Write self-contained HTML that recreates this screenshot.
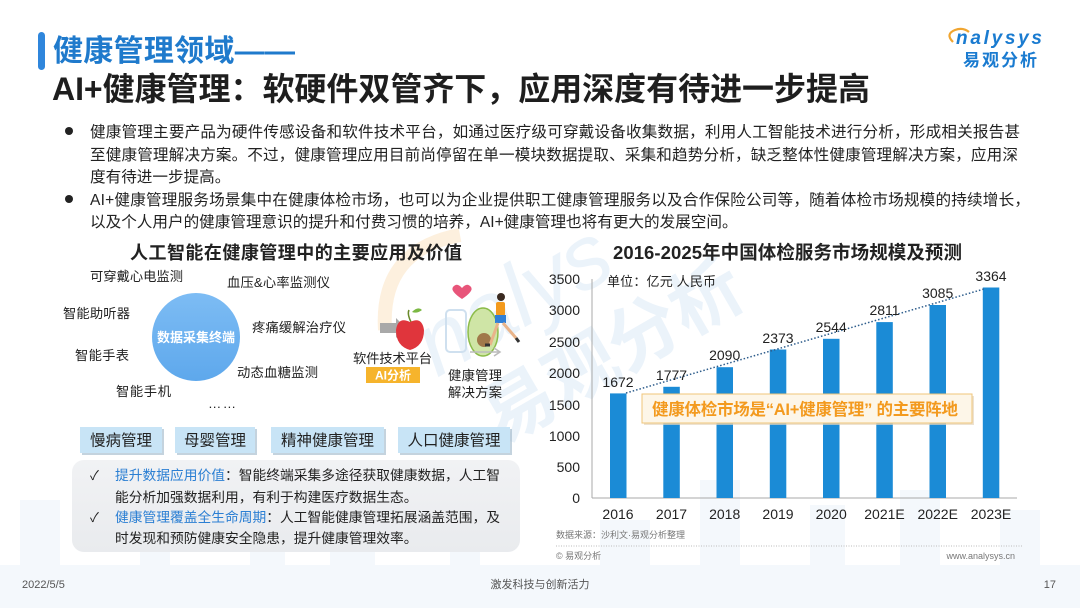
<!DOCTYPE html>
<html>
<head>
<meta charset="utf-8">
<style>
  html,body{margin:0;padding:0;background:#fff;}
  body{width:1080px;height:608px;overflow:hidden;position:relative;}
  svg{position:absolute;left:0;top:0;}
  text{font-family:"Liberation Sans","Noto Sans CJK SC",sans-serif;}
</style>
</head>
<body>
<svg width="1080" height="608" viewBox="0 0 1080 608" xmlns="http://www.w3.org/2000/svg">
  <defs>
    <linearGradient id="circG" x1="0" y1="0" x2="0" y2="1">
      <stop offset="0" stop-color="#7dbcf4"/>
      <stop offset="1" stop-color="#5ea8ec"/>
    </linearGradient>
    <linearGradient id="grayBox" x1="0" y1="0" x2="0" y2="1">
      <stop offset="0" stop-color="#f1f2f4"/>
      <stop offset="1" stop-color="#e9ebee"/>
    </linearGradient>
  </defs>

  <!-- faint background skyline -->
  <g fill="#f4f8fc">
    <rect x="0" y="565" width="1080" height="43"/>
    <rect x="20" y="500" width="40" height="108"/>
    <rect x="140" y="520" width="30" height="88"/>
    <rect x="250" y="490" width="35" height="118"/>
    <rect x="330" y="470" width="45" height="138"/>
    <rect x="450" y="500" width="30" height="108"/>
    <rect x="600" y="520" width="50" height="88"/>
    <rect x="700" y="480" width="40" height="128"/>
    <rect x="810" y="505" width="35" height="103"/>
    <rect x="900" y="490" width="40" height="118"/>
    <rect x="1000" y="510" width="40" height="98"/>
  </g>

  <!-- watermark -->
  <path d="M385 330 Q380 250 460 235" fill="none" stroke="#fbe6c8" stroke-width="14" opacity="0.6"/>
  <g transform="translate(600,330) rotate(-30)" opacity="0.4">
    <text x="-60" y="-40" font-size="90" font-style="italic" fill="#cfe2f4" text-anchor="middle">nalys</text>
    <text x="0" y="50" font-size="72" fill="#cfe2f4" text-anchor="middle" font-weight="bold">易观分析</text>
  </g>

  <!-- header -->
  <rect x="38" y="32" width="7" height="38" rx="3.5" fill="#2f86dc"/>
  <text x="53" y="61" font-size="30" font-weight="bold" fill="#1f7acc" textLength="242">健康管理领域——</text>
  <text x="52" y="100" font-size="32" font-weight="bold" fill="#1e1e1e" textLength="818">AI+健康管理：软硬件双管齐下，应用深度有待进一步提高</text>

  <!-- logo -->
  <path d="M953 42 Q945 34 955 30 Q963 27 969 32" fill="none" stroke="#f0a530" stroke-width="2.2"/>
  <text x="956" y="44" font-size="19" font-style="italic" font-weight="bold" fill="#1a7bd0" textLength="86">nalysys</text>
  <text x="963" y="66" font-size="17" font-weight="bold" fill="#1a7bd0" textLength="74">易观分析</text>

  <!-- bullets -->
  <g font-size="15.6" fill="#222">
    <circle cx="69" cy="131" r="4" fill="#222"/>
    <text x="90" y="137" textLength="930">健康管理主要产品为硬件传感设备和软件技术平台，如通过医疗级可穿戴设备收集数据，利用人工智能技术进行分析，形成相关报告甚</text>
    <text x="90" y="160" textLength="928">至健康管理解决方案。不过，健康管理应用目前尚停留在单一模块数据提取、采集和趋势分析，缺乏整体性健康管理解决方案，应用深</text>
    <text x="90" y="182">度有待进一步提高。</text>
    <circle cx="69" cy="199" r="4" fill="#222"/>
    <text x="90" y="205" textLength="940">AI+健康管理服务场景集中在健康体检市场，也可以为企业提供职工健康管理服务以及合作保险公司等，随着体检市场规模的持续增长，</text>
    <text x="90" y="227">以及个人用户的健康管理意识的提升和付费习惯的培养，AI+健康管理也将有更大的发展空间。</text>
  </g>

  <!-- left section title -->
  <text x="130" y="259" font-size="18" font-weight="bold" fill="#222" textLength="332">人工智能在健康管理中的主要应用及价值</text>

  <!-- circle -->
  <circle cx="196" cy="337" r="44" fill="url(#circG)"/>
  <text x="196" y="342" font-size="13" font-weight="bold" fill="#fff" text-anchor="middle">数据采集终端</text>

  <g font-size="13.3" fill="#222">
    <text x="90" y="281" textLength="93">可穿戴心电监测</text>
    <text x="227" y="287" textLength="103">血压&amp;心率监测仪</text>
    <text x="63" y="318" textLength="67">智能助听器</text>
    <text x="252" y="332" textLength="94">疼痛缓解治疗仪</text>
    <text x="75" y="360" textLength="54">智能手表</text>
    <text x="237" y="377" textLength="81">动态血糖监测</text>
    <text x="116" y="396" textLength="55">智能手机</text>
    <text x="208" y="408" textLength="28">……</text>
    <text x="353" y="363" textLength="79">软件技术平台</text>
    <text x="448" y="380" textLength="54">健康管理</text>
    <text x="448" y="397" textLength="54">解决方案</text>
  </g>

  <!-- gray arrow -->
  <path d="M380 323 L396 323 L396 318 L406 328 L396 338 L396 333 L380 333 Z" fill="#a9a9a9"/>
  <!-- AI analysis box -->
  <rect x="366" y="367" width="54" height="16" fill="#f6b42c"/>
  <text x="393" y="379.5" font-size="12" font-weight="bold" fill="#fff" text-anchor="middle">AI分析</text>

  <!-- illustration -->
  <path d="M411 322 q-4 -8 -2 -12" stroke="#6a8a2a" stroke-width="1.5" fill="none"/>
  <path d="M412 312 q6 -6 10 -2 q-5 4 -10 2z" fill="#7bb843"/>
  <path d="M410 322 q-12 -6 -14 8 q0 16 14 20 q14 -4 14 -20 q-2 -14 -14 -8z" fill="#e0353c"/>
  <rect x="446" y="310" width="20" height="42" rx="4" fill="none" stroke="#cfe0ef" stroke-width="2"/>
  <path d="M462 288 q-5 -6 -9 -1 q-3 4 9 12 q12 -8 9 -12 q-4 -5 -9 1z" fill="#e8557a"/>
  <ellipse cx="483" cy="332" rx="15" ry="24" fill="#cfe5a6" stroke="#8cbc4a" stroke-width="1.5"/>
  <circle cx="484" cy="340" r="7" fill="#a0794a"/>
  <circle cx="501" cy="297" r="4" fill="#3a2a20"/>
  <rect x="496" y="302" width="9" height="14" rx="2" fill="#f39a1e"/>
  <rect x="495" y="315" width="11" height="8" fill="#2f7fd6"/>
  <path d="M498 323 L490 345 M503 323 L516 338" stroke="#e9b48a" stroke-width="3" fill="none"/>
  <path d="M490 345 l-5 0 M516 338 l3 4" stroke="#333" stroke-width="3"/>
  <path d="M470 352 L500 352 M494 348 l6 4 l-6 4" stroke="#bbb" stroke-width="1.5" fill="none"/>

  <!-- pills -->
  <g>
    <rect x="82" y="429" width="82" height="26" fill="#9db5c8" opacity="0.6"/>
    <rect x="80" y="427" width="82" height="26" fill="#c8e4f6"/>
    <text x="121" y="445.5" font-size="15.5" fill="#222" text-anchor="middle">慢病管理</text>
    <rect x="177" y="429" width="80" height="26" fill="#9db5c8" opacity="0.6"/>
    <rect x="175" y="427" width="80" height="26" fill="#c8e4f6"/>
    <text x="215" y="445.5" font-size="15.5" fill="#222" text-anchor="middle">母婴管理</text>
    <rect x="273" y="429" width="113" height="26" fill="#9db5c8" opacity="0.6"/>
    <rect x="271" y="427" width="113" height="26" fill="#c8e4f6"/>
    <text x="327.5" y="445.5" font-size="15.5" fill="#222" text-anchor="middle">精神健康管理</text>
    <rect x="400" y="429" width="112" height="26" fill="#9db5c8" opacity="0.6"/>
    <rect x="398" y="427" width="112" height="26" fill="#c8e4f6"/>
    <text x="454" y="445.5" font-size="15.5" fill="#222" text-anchor="middle">人口健康管理</text>
  </g>

  <!-- gray box -->
  <rect x="72" y="460" width="448" height="92" rx="12" fill="url(#grayBox)"/>
  <g font-size="13.75" fill="#222">
    <text x="90" y="480" font-size="13">✓</text>
    <text x="115" y="480" textLength="385"><tspan fill="#2b7fd3">提升数据应用价值</tspan>：智能终端采集多途径获取健康数据，人工智</text>
    <text x="115" y="502">能分析加强数据利用，有利于构建医疗数据生态。</text>
    <text x="90" y="522" font-size="13">✓</text>
    <text x="115" y="522" textLength="385"><tspan fill="#2b7fd3">健康管理覆盖全生命周期</tspan>：人工智能健康管理拓展涵盖范围，及</text>
    <text x="115" y="543">时发现和预防健康安全隐患，提升健康管理效率。</text>
  </g>

  <!-- chart title -->
  <text x="613" y="259" font-size="18.5" font-weight="bold" fill="#222" textLength="349">2016-2025年中国体检服务市场规模及预测</text>

  <!-- axes -->
  <line x1="592" y1="279" x2="592" y2="498" stroke="#a8a8a8" stroke-width="1"/>
  <line x1="592" y1="498" x2="1017" y2="498" stroke="#a8a8a8" stroke-width="1"/>
  <g font-size="14" fill="#222" text-anchor="end">
    <text x="580" y="284">3500</text>
    <text x="580" y="315">3000</text>
    <text x="580" y="347">2500</text>
    <text x="580" y="378">2000</text>
    <text x="580" y="410">1500</text>
    <text x="580" y="441">1000</text>
    <text x="580" y="472">500</text>
    <text x="580" y="503">0</text>
  </g>
  <text x="607" y="286" font-size="13" fill="#222" textLength="109">单位：亿元 人民币</text>

  <!-- bars -->
  <g fill="#1b8bd6">
    <rect x="610" y="393.4" width="16.5" height="104.6"/>
    <rect x="663.3" y="386.8" width="16.5" height="111.2"/>
    <rect x="716.5" y="367.2" width="16.5" height="130.8"/>
    <rect x="769.8" y="349.5" width="16.5" height="148.5"/>
    <rect x="823" y="338.8" width="16.5" height="159.2"/>
    <rect x="876.3" y="322.1" width="16.5" height="175.9"/>
    <rect x="929.5" y="305" width="16.5" height="193"/>
    <rect x="982.8" y="287.5" width="16.5" height="210.5"/>
  </g>

  <!-- trend line -->
  <line x1="626" y1="393" x2="984" y2="289" stroke="#2e5d8c" stroke-width="1.5" stroke-dasharray="1.5 2"/>

  <!-- value labels -->
  <g font-size="14" fill="#222" text-anchor="middle">
    <text x="618" y="387">1672</text>
    <text x="671.5" y="380">1777</text>
    <text x="724.7" y="360">2090</text>
    <text x="778" y="343">2373</text>
    <text x="831.2" y="332">2544</text>
    <text x="884.5" y="315">2811</text>
    <text x="937.7" y="298">3085</text>
    <text x="991" y="281">3364</text>
  </g>

  <!-- callout box -->
  <rect x="644" y="396" width="330" height="29" fill="#e5d6bd" opacity="0.7"/>
  <rect x="642" y="394" width="330" height="29" fill="#fdf6e8" stroke="#f0c57a" stroke-width="1"/>
  <text x="652" y="415" font-size="16.5" font-weight="bold" fill="#f39a1e" textLength="306">健康体检市场是“AI+健康管理” 的主要阵地</text>

  <!-- x labels -->
  <g font-size="14" fill="#222" text-anchor="middle">
    <text x="618" y="519">2016</text>
    <text x="671.5" y="519">2017</text>
    <text x="724.7" y="519">2018</text>
    <text x="778" y="519">2019</text>
    <text x="831.2" y="519">2020</text>
    <text x="884.5" y="519">2021E</text>
    <text x="937.7" y="519">2022E</text>
    <text x="991" y="519">2023E</text>
  </g>

  <!-- source -->
  <text x="556" y="538" font-size="9" fill="#777">数据来源：沙利文·易观分析整理</text>
  <line x1="556" y1="546" x2="1022" y2="546" stroke="#bbb" stroke-width="1" stroke-dasharray="1 1.5"/>
  <text x="556" y="559" font-size="9" fill="#777">© 易观分析</text>
  <text x="1015" y="559" font-size="9" fill="#777" text-anchor="end">www.analysys.cn</text>

  <!-- footer -->
  <text x="22" y="588" font-size="11" fill="#555">2022/5/5</text>
  <text x="540" y="588" font-size="11" fill="#555" text-anchor="middle">激发科技与创新活力</text>
  <text x="1056" y="588" font-size="11" fill="#555" text-anchor="end">17</text>
</svg>
</body>
</html>
